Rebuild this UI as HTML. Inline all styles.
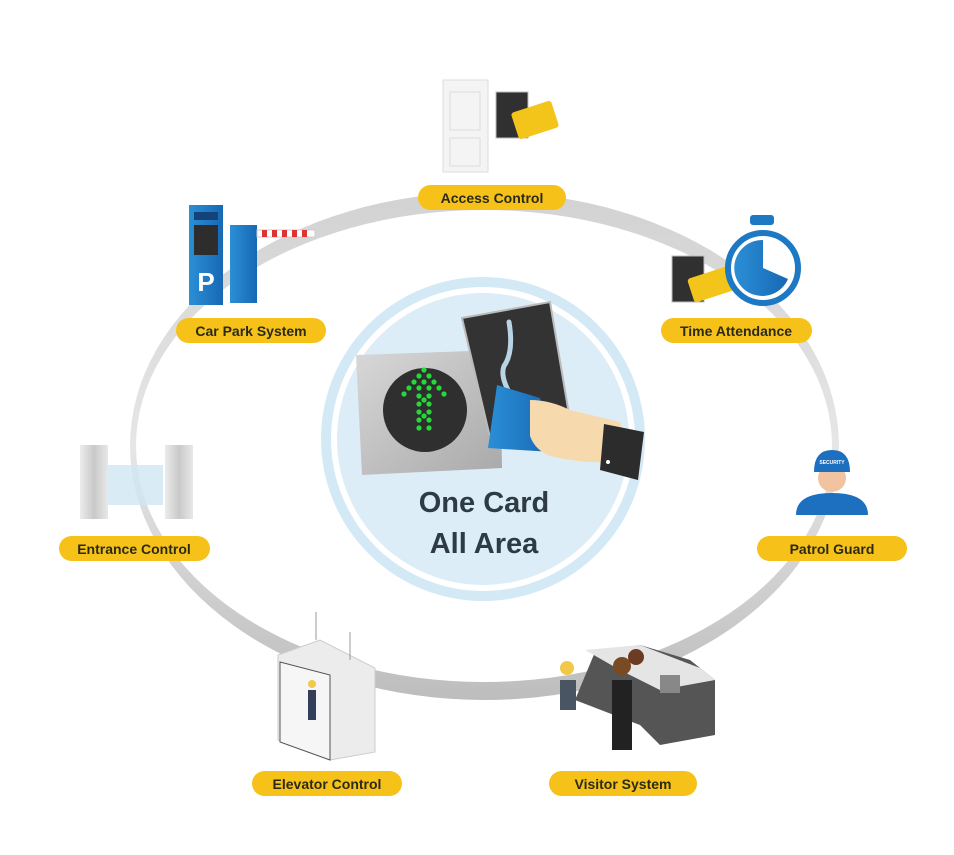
<!DOCTYPE html>
<html><head><meta charset="utf-8"><style>
html,body{margin:0;padding:0;background:#fff;}
svg{display:block;font-family:"Liberation Sans",sans-serif;}
.lbl{font-weight:bold;font-size:14px;fill:#2b2a17;text-anchor:middle;}
</style></head><body>
<svg width="954" height="855" viewBox="0 0 954 855" xmlns="http://www.w3.org/2000/svg">
<defs>
<linearGradient id="ring" x1="0" y1="0" x2="0" y2="1">
<stop offset="0" stop-color="#d2d2d2"/><stop offset="0.5" stop-color="#e6e6e6"/><stop offset="1" stop-color="#bdbdbd"/>
</linearGradient>
<linearGradient id="blue" x1="0" y1="0" x2="1" y2="0"><stop offset="0" stop-color="#2b8fd6"/><stop offset="1" stop-color="#1768b4"/></linearGradient>
<linearGradient id="metal" x1="0" y1="0" x2="1" y2="0"><stop offset="0" stop-color="#ececec"/><stop offset="0.5" stop-color="#c9c9c9"/><stop offset="1" stop-color="#e8e8e8"/></linearGradient>
<linearGradient id="plate" x1="0" y1="0" x2="1" y2="1"><stop offset="0" stop-color="#d8d8d8"/><stop offset="1" stop-color="#a9a9a9"/></linearGradient>
</defs>
<!-- ring -->
<path fill="url(#ring)" fill-rule="evenodd" d="M130,446 a354.5,254 0 1,0 709,0 a354.5,254 0 1,0 -709,0 Z M136,446 a348,236 0 1,0 696,0 a348,236 0 1,0 -696,0 Z"/>

<!-- center circle -->
<circle cx="483" cy="439" r="162" fill="#d3e9f5"/>
<circle cx="483" cy="439" r="152" fill="#fff"/>
<circle cx="483" cy="439" r="146" fill="#dcedf7"/>
<!-- plate -->
<polygon points="356,355 500,350 502,468 362,475" fill="url(#plate)"/>
<circle cx="425" cy="410" r="42" fill="#2f2f2f"/>
<g fill="#27d83a">
<circle cx="424" cy="370" r="2.6"/><circle cx="419" cy="376" r="2.6"/><circle cx="429" cy="376" r="2.6"/>
<circle cx="414" cy="382" r="2.6"/><circle cx="434" cy="382" r="2.6"/><circle cx="424" cy="382" r="2.6"/>
<circle cx="409" cy="388" r="2.6"/><circle cx="439" cy="388" r="2.6"/><circle cx="419" cy="388" r="2.6"/><circle cx="429" cy="388" r="2.6"/>
<circle cx="404" cy="394" r="2.6"/><circle cx="444" cy="394" r="2.6"/>
<circle cx="419" cy="396" r="2.6"/><circle cx="429" cy="396" r="2.6"/><circle cx="419" cy="404" r="2.6"/><circle cx="429" cy="404" r="2.6"/>
<circle cx="419" cy="412" r="2.6"/><circle cx="429" cy="412" r="2.6"/><circle cx="419" cy="420" r="2.6"/><circle cx="429" cy="420" r="2.6"/>
<circle cx="419" cy="428" r="2.6"/><circle cx="429" cy="428" r="2.6"/><circle cx="424" cy="400" r="2.6"/><circle cx="424" cy="416" r="2.6"/>
</g>
<!-- reader -->
<polygon points="462,318 550,302 572,432 492,446" fill="#333" stroke="#bbb" stroke-width="2"/>
<path d="M509,322 q5,30 -5,44 q-4,10 6,28" stroke="#b9d4e4" stroke-width="5" fill="none" stroke-linecap="round"/>
<!-- card -->
<polygon points="497,385 540,398 552,452 488,448" fill="url(#blue)"/>
<!-- hand -->
<path d="M530,400 q20,0 40,10 l50,12 l10,38 q-40,6 -80,-4 q-15,-6 -20,-20 z" fill="#f7d9ae"/>
<polygon points="604,424 644,432 638,480 600,470" fill="#2c2c2c"/>
<circle cx="608" cy="462" r="2" fill="#fff"/>
<text x="484" y="512" font-size="29" font-weight="bold" fill="#2e3b44" text-anchor="middle">One Card</text>
<text x="484" y="553" font-size="29" font-weight="bold" fill="#2e3b44" text-anchor="middle">All Area</text>

<!-- access control icon -->
<rect x="443" y="80" width="45" height="92" fill="#f4f4f4" stroke="#ddd"/>
<rect x="450" y="92" width="30" height="38" fill="none" stroke="#ddd"/>
<rect x="450" y="138" width="30" height="28" fill="none" stroke="#ddd"/>
<rect x="496" y="92" width="32" height="46" fill="#303030" stroke="#bbb"/>
<rect x="514" y="106" width="42" height="28" rx="3" fill="#f3c51b" transform="rotate(-18 535 120)"/>
<!-- car park -->
<rect x="189" y="205" width="34" height="100" fill="url(#blue)"/>
<rect x="194" y="212" width="24" height="8" fill="#14437a"/>
<rect x="194" y="225" width="24" height="30" fill="#2d2d2d"/>
<text x="206" y="291" font-size="26" font-weight="bold" fill="#fff" text-anchor="middle">P</text>
<rect x="230" y="225" width="27" height="78" fill="url(#blue)"/>
<rect x="257" y="230" width="58" height="7" fill="#fff" stroke="#ccc"/>
<g fill="#d33"><rect x="262" y="230" width="5" height="7"/><rect x="272" y="230" width="5" height="7"/><rect x="282" y="230" width="5" height="7"/><rect x="292" y="230" width="5" height="7"/><rect x="302" y="230" width="5" height="7"/></g>
<!-- time attendance -->
<rect x="672" y="256" width="32" height="46" fill="#303030" stroke="#bbb"/>
<rect x="690" y="272" width="42" height="25" rx="3" fill="#f3c51b" transform="rotate(-18 711 285)"/>
<rect x="750" y="215" width="24" height="10" rx="3" fill="#1d79c4"/>
<circle cx="763" cy="268" r="35" fill="#fff" stroke="#1d79c4" stroke-width="6"/>
<path d="M763,268 L763,240 A28,28 0 1,0 788,279 Z" fill="url(#blue)"/>
<!-- patrol guard -->
<path d="M796,515 q0,-22 36,-22 q36,0 36,22 z" fill="#1d6fbf"/>
<circle cx="832" cy="478" r="14" fill="#f1c3a0"/>
<path d="M814,472 q0,-22 18,-22 q18,0 18,22 z" fill="#1d6fbf"/>
<text x="832" y="464" font-size="5" fill="#fff" text-anchor="middle" font-weight="bold">SECURITY</text>
<!-- entrance control -->
<rect x="80" y="445" width="28" height="74" fill="url(#metal)"/>
<rect x="165" y="445" width="28" height="74" fill="url(#metal)"/>
<path d="M108,465 h55 v40 h-55 z" fill="#cfe6f2" opacity="0.8"/>
<!-- elevator -->
<polygon points="278,655 320,640 375,668 375,752 330,760 278,740" fill="#ececec" stroke="#ccc"/>
<polygon points="280,662 330,675 330,760 280,742" fill="#f6f6f6" stroke="#555"/>
<rect x="308" y="690" width="8" height="30" fill="#34405a"/>
<circle cx="312" cy="684" r="4" fill="#f3c94b"/>
<line x1="316" y1="612" x2="316" y2="640" stroke="#999"/><line x1="350" y1="632" x2="350" y2="660" stroke="#999"/>
<!-- visitor -->
<polygon points="595,652 640,645 690,660 715,680 715,735 660,745 640,725 575,700" fill="#555"/>
<polygon points="585,650 640,645 700,668 715,680 660,690 620,670" fill="#e5e5e5"/>
<rect x="660" y="675" width="20" height="18" fill="#888"/>
<rect x="612" y="680" width="20" height="70" fill="#222"/>
<circle cx="622" cy="666" r="9" fill="#7a4a22"/>
<circle cx="636" cy="657" r="8" fill="#6d3a24"/>
<rect x="560" y="680" width="16" height="30" fill="#4a5564"/>
<circle cx="567" cy="668" r="7" fill="#f1c94a"/>

<!-- labels -->
<g fill="#f6c21a">
<rect x="418" y="185" width="148" height="25" rx="12.5"/>
<rect x="176" y="318" width="150" height="25" rx="12.5"/>
<rect x="661" y="318" width="151" height="25" rx="12.5"/>
<rect x="59" y="536" width="151" height="25" rx="12.5"/>
<rect x="757" y="536" width="150" height="25" rx="12.5"/>
<rect x="252" y="771" width="150" height="25" rx="12.5"/>
<rect x="549" y="771" width="148" height="25" rx="12.5"/>
</g>
<text class="lbl" x="492" y="203">Access Control</text>
<text class="lbl" x="251" y="336">Car Park System</text>
<text class="lbl" x="736" y="336">Time Attendance</text>
<text class="lbl" x="134" y="554">Entrance Control</text>
<text class="lbl" x="832" y="554">Patrol Guard</text>
<text class="lbl" x="327" y="789">Elevator Control</text>
<text class="lbl" x="623" y="789">Visitor System</text>
</svg>
</body></html>
